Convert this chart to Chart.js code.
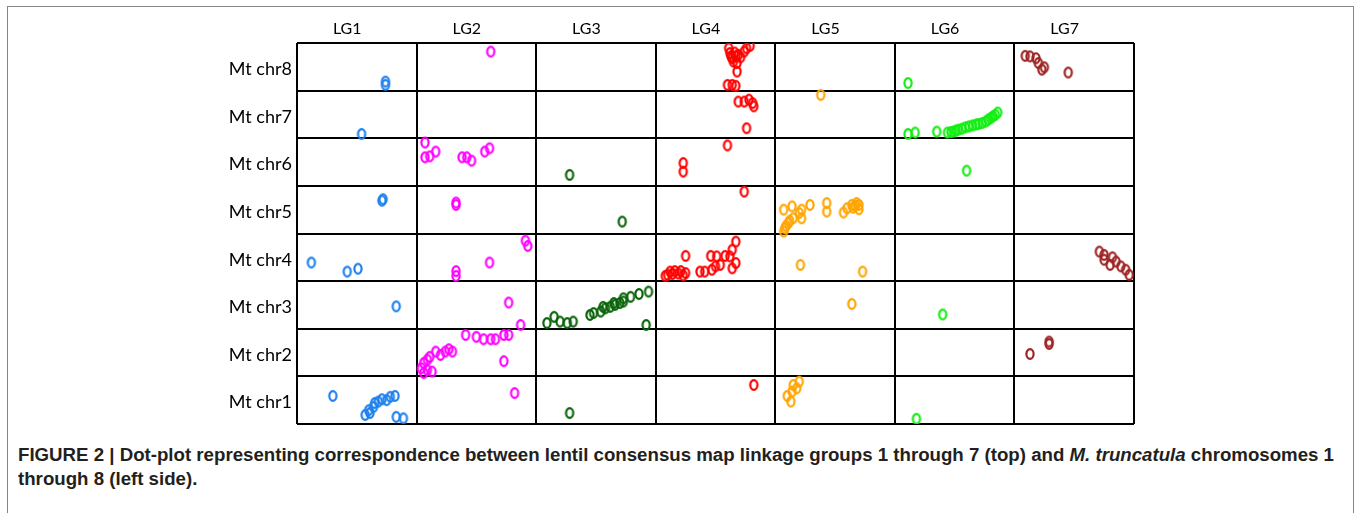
<!DOCTYPE html>
<html lang="en">
  <head>
    <meta charset="UTF-8" />
    <title>dot-plot | lentil LG vs Mt chr</title>
    <style>
      body { margin: 0; background: #fff; }
      .frame {
        position: absolute; left: 7px; top: 6px; width: 1345px; height: 600px;
        border: 1px solid #858585; background: #fff;
      }
      #wrap { position: absolute; left: 0; top: 0; width: 1357px; height: 440px; }
      .caption {
        position: absolute; left: 18px; top: 443px;
        font: bold 18px "Liberation Sans Narrow", "Liberation Sans", Arial, sans-serif;
        line-height: 24px;
        color: #231f20; white-space: nowrap; transform-origin: 0 0;
      }
    </style>
  </head>
  <body>
    <div class="frame"></div>
    <div id="wrap"><canvas id="dotplot"></canvas></div>
    <div class="caption" id="cap">
      <span id="line1">FIGURE 2 | Dot-plot representing correspondence between lentil consensus map linkage groups 1 through 7 (top) and <i>M. truncatula</i> chromosomes 1</span><br />
      <span>through 8 (left side).</span>
    </div>

    <script src="https://cdn.jsdelivr.net/npm/chart.js"></script>

    <script>
      const lgLabels = ["LG1", "LG2", "LG3", "LG4", "LG5", "LG6", "LG7"];
      // bottom to top
      const chrLabels = ["Mt chr1", "Mt chr2", "Mt chr3", "Mt chr4", "Mt chr5", "Mt chr6", "Mt chr7", "Mt chr8"];
      const lgColors = ["#1e80ee", "#ff00ff", "#0a640a", "#ff0000", "#ffa500", "#10ee10", "#9e2424"];

      // [lentil position (0-7), Mt position (0-8)]
      const lg1Points = [[0.74,7.19],[0.74,7.12],[0.54,6.09],[0.72,4.72],[0.71,4.69],[0.12,3.39],[0.42,3.20],[0.51,3.26],[0.83,2.47],[0.30,0.59],[0.57,0.19],[0.60,0.29],[0.61,0.23],[0.64,0.36],[0.65,0.44],[0.68,0.47],[0.71,0.52],[0.75,0.50],[0.78,0.57],[0.82,0.59],[0.83,0.15],[0.89,0.12]];
      const lg2Points = [[1.62,7.82],[1.07,5.91],[1.07,5.60],[1.11,5.62],[1.16,5.72],[1.38,5.60],[1.42,5.60],[1.46,5.53],[1.57,5.72],[1.61,5.79],[1.33,4.65],[1.33,4.60],[1.91,3.85],[1.93,3.74],[1.61,3.39],[1.33,3.21],[1.33,3.11],[1.77,2.55],[1.87,2.08],[1.41,1.87],[1.50,1.83],[1.56,1.78],[1.62,1.78],[1.66,1.78],[1.73,1.87],[1.77,1.87],[1.73,1.32],[1.06,1.28],[1.09,1.35],[1.11,1.41],[1.16,1.52],[1.20,1.45],[1.24,1.52],[1.27,1.57],[1.30,1.52],[1.06,1.07],[1.09,1.13],[1.13,1.10],[1.04,1.17],[1.82,0.65]];
      const lg3Points = [[2.28,5.23],[2.72,4.25],[2.09,2.12],[2.15,2.25],[2.20,2.15],[2.26,2.12],[2.31,2.15],[2.45,2.29],[2.48,2.33],[2.54,2.36],[2.58,2.43],[2.62,2.46],[2.66,2.50],[2.70,2.54],[2.73,2.57],[2.56,2.46],[2.65,2.54],[2.73,2.64],[2.79,2.67],[2.86,2.73],[2.94,2.78],[2.92,2.08],[2.28,0.23]];
      const lg4Points = [[3.62,7.79],[3.64,7.68],[3.67,7.72],[3.69,7.75],[3.74,7.82],[3.76,7.89],[3.79,7.94],[3.61,7.89],[3.65,7.61],[3.68,7.58],[3.68,7.40],[3.63,7.72],[3.66,7.80],[3.71,7.70],[3.60,7.12],[3.64,7.12],[3.67,7.10],[3.69,6.77],[3.74,6.77],[3.78,6.81],[3.81,6.74],[3.82,6.67],[3.76,6.21],[3.60,5.85],[3.23,5.48],[3.23,5.30],[3.74,4.88],[3.25,3.53],[3.08,3.11],[3.12,3.20],[3.16,3.21],[3.21,3.21],[3.25,3.17],[3.10,3.13],[3.14,3.15],[3.19,3.16],[3.23,3.12],[3.37,3.20],[3.41,3.20],[3.47,3.24],[3.50,3.31],[3.54,3.34],[3.46,3.53],[3.51,3.52],[3.58,3.53],[3.62,3.52],[3.64,3.66],[3.67,3.83],[3.64,3.27],[3.67,3.38],[3.82,0.82]];
      const lg5Points = [[4.38,6.91],[4.07,4.50],[4.14,4.57],[4.08,4.11],[4.11,4.22],[4.15,4.32],[4.20,4.43],[4.22,4.50],[4.22,4.32],[4.09,4.16],[4.12,4.27],[4.29,4.60],[4.43,4.64],[4.43,4.46],[4.57,4.44],[4.60,4.53],[4.64,4.60],[4.68,4.64],[4.70,4.51],[4.65,4.54],[4.67,4.58],[4.70,4.60],[4.07,4.04],[4.21,3.34],[4.73,3.20],[4.64,2.52],[4.13,0.47],[4.10,0.59],[4.14,0.68],[4.15,0.82],[4.18,0.75],[4.20,0.89]];
      const lg6Points = [[5.11,7.16],[5.11,6.09],[5.17,6.12],[5.35,6.14],[5.44,6.12],[5.47,6.13],[5.49,6.14],[5.51,6.16],[5.53,6.18],[5.56,6.20],[5.59,6.23],[5.62,6.25],[5.65,6.27],[5.68,6.29],[5.70,6.30],[5.73,6.32],[5.76,6.35],[5.78,6.39],[5.80,6.42],[5.82,6.46],[5.84,6.49],[5.86,6.54],[5.60,5.32],[5.40,2.30],[5.18,0.11]];
      const lg7Points = [[6.09,7.73],[6.13,7.72],[6.18,7.68],[6.20,7.58],[6.25,7.49],[6.23,7.44],[6.45,7.38],[6.71,3.62],[6.75,3.55],[6.82,3.50],[6.85,3.41],[6.89,3.31],[6.93,3.24],[6.96,3.13],[6.75,3.45],[6.80,3.34],[6.13,1.47],[6.29,1.73],[6.29,1.68]];

      const allPoints = [lg1Points, lg2Points, lg3Points, lg4Points, lg5Points, lg6Points, lg7Points];

      // little open "o" marker, a bit taller than wide
      function ring(color) {
        const c = document.createElement("canvas");
        c.width = 12;
        c.height = 14;
        const g = c.getContext("2d");
        g.strokeStyle = color;
        g.lineWidth = 2.2;
        g.beginPath();
        g.ellipse(6, 7, 3.6, 4.8, 0, 0, Math.PI * 2);
        g.stroke();
        return c;
      }

      const datasets = allPoints.map((pts, i) => ({
        label: lgLabels[i],
        data: pts.map(([x, y]) => ({ x: x, y: y })),
        pointStyle: ring(lgColors[i]),
        borderColor: lgColors[i],
        backgroundColor: lgColors[i],
      }));

      const gridLines = { color: "#000", lineWidth: 2, drawTicks: false };

      new Chart(document.getElementById("dotplot"), {
        type: "scatter",
        data: { datasets: datasets },
        options: {
          responsive: true,
          maintainAspectRatio: false,
          animation: false,
          layout: { padding: { left: 0, top: 0, right: 223, bottom: 16 } },
          plugins: { legend: { display: false }, tooltip: { enabled: false } },
          scales: {
            x: {
              type: "linear", position: "bottom", min: 0, max: 7,
              ticks: { display: false, stepSize: 1 },
              grid: gridLines,
              border: { display: false },
              afterFit: (s) => { s.height = 0; },
            },
            y: {
              type: "linear", position: "left", min: 0, max: 8,
              ticks: { display: false, stepSize: 1 },
              grid: gridLines,
              border: { display: false },
              afterFit: (s) => { s.width = 0; },
            },
            lg: {
              type: "linear", position: "top", min: 0, max: 7,
              grid: { display: false, drawTicks: false },
              border: { display: false },
              afterBuildTicks: (s) => { s.ticks = lgLabels.map((_, i) => ({ value: i + 0.42 })); },
              ticks: {
                callback: (v, i) => lgLabels[i],
                font: { family: "Lato", size: 16 }, color: "#000",
                padding: 5, autoSkip: false, maxRotation: 0,
              },
              afterFit: (s) => { s.height = 43; },
            },
            chr: {
              type: "linear", position: "left", min: 0, max: 8,
              grid: { display: false, drawTicks: false },
              border: { display: false },
              afterBuildTicks: (s) => { s.ticks = chrLabels.map((_, i) => ({ value: i + 0.45 })); },
              ticks: {
                callback: (v, i) => chrLabels[i],
                font: { family: "Lato", size: 18 }, color: "#000",
                padding: 5, autoSkip: false,
              },
              afterFit: (s) => { s.width = 297; },
            },
          },
        },
      });

      // squeeze the caption so that its first line spans the figure width
      const cap = document.getElementById("cap");
      const w = document.getElementById("line1").getBoundingClientRect().width;
      cap.style.transform = "scaleX(" + (1316 / w) + ")";
    </script>
  </body>
</html>
